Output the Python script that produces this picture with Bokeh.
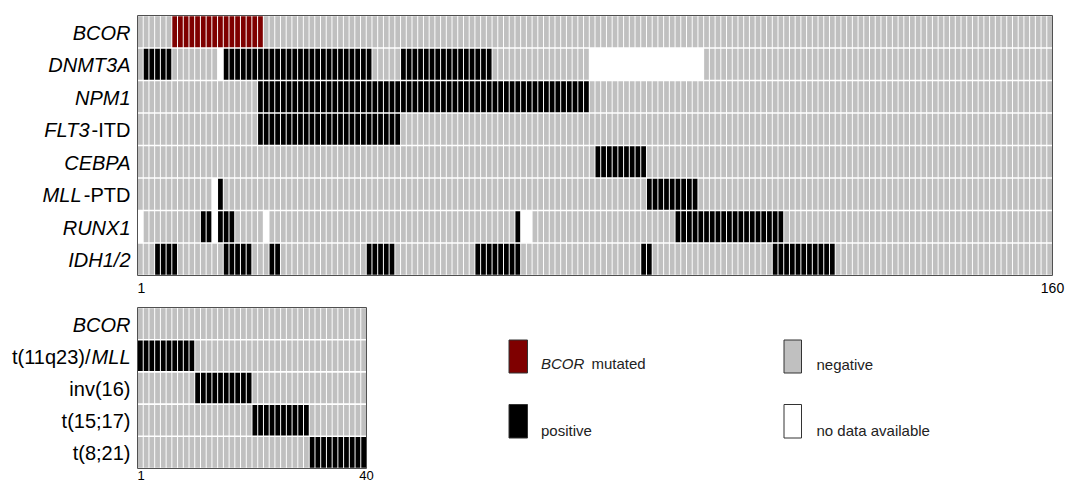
import pandas as pd
from bokeh.plotting import figure
from bokeh.models import ColumnDataSource, Range1d, FixedTicker
from bokeh.layouts import column, row
from bokeh.embed import file_html
from bokeh.resources import INLINE

FONT = "Liberation Sans"

# ---------------- data ----------------
N_TOP = 160
N_BOTTOM = 40

top_rows = ["BCOR", "DNMT3A", "NPM1", "FLT3-ITD", "CEBPA", "MLL-PTD", "RUNX1", "IDH1/2"]
bottom_rows = ["BCOR", "t(11q23)/MLL", "inv(16)", "t(15;17)", "t(8;21)"]

# case numbers (1-based) per state
bcor_mutated = list(range(7, 23))
dnmt3a_pos = list(range(2, 7)) + list(range(16, 42)) + list(range(47, 63))
dnmt3a_na = [15] + list(range(80, 100))
npm1_pos = list(range(22, 80))
flt3_pos = list(range(22, 47))
cebpa_pos = list(range(81, 90))
mllptd_pos = [15] + list(range(90, 99))
mllptd_na = [14]
runx1_pos = [12, 13, 15, 16, 17, 67] + list(range(95, 114))
runx1_na = [1, 14, 23, 68, 69]
idh_pos = [4, 5, 6, 7, 16, 17, 18, 19, 20, 24, 25, 41, 42, 43, 44, 45,
           60, 61, 62, 63, 64, 65, 66, 67, 89, 90] + list(range(112, 123))

bcor_bottom_mutated = []
t1123_pos = list(range(1, 11))
inv16_pos = list(range(11, 21))
t1517_pos = list(range(21, 31))
t821_pos = list(range(31, 41))

COLORS = {"negative": "#c0c0c0", "positive": "#000000",
          "mutated": "#7f0000", "na": "#ffffff"}

top_marks = {
    "BCOR": [("mutated", bcor_mutated)],
    "DNMT3A": [("positive", dnmt3a_pos), ("na", dnmt3a_na)],
    "NPM1": [("positive", npm1_pos)],
    "FLT3-ITD": [("positive", flt3_pos)],
    "CEBPA": [("positive", cebpa_pos)],
    "MLL-PTD": [("positive", mllptd_pos), ("na", mllptd_na)],
    "RUNX1": [("positive", runx1_pos), ("na", runx1_na)],
    "IDH1/2": [("positive", idh_pos)],
}
bottom_marks = {
    "BCOR": [("mutated", bcor_bottom_mutated)],
    "t(11q23)/MLL": [("positive", t1123_pos)],
    "inv(16)": [("positive", inv16_pos)],
    "t(15;17)": [("positive", t1517_pos)],
    "t(8;21)": [("positive", t821_pos)],
}

# row-label pieces: (row name, text, font style, extra x offset in px)
top_label_pieces = [
    ("BCOR", "BCOR", "italic", 0),
    ("DNMT3A", "DNMT3A", "italic", 0),
    ("NPM1", "NPM1", "italic", 0),
    ("FLT3-ITD", "-ITD", "normal", 0),
    ("FLT3-ITD", "FLT3", "italic", -41),
    ("CEBPA", "CEBPA", "italic", 0),
    ("MLL-PTD", "-PTD", "normal", 0),
    ("MLL-PTD", "MLL", "italic", -49),
    ("RUNX1", "RUNX1", "italic", 0),
    ("IDH1/2", "IDH1/2", "italic", 0),
]
bottom_label_pieces = [
    ("BCOR", "BCOR", "italic", 0),
    ("t(11q23)/MLL", "MLL", "italic", 0),
    ("t(11q23)/MLL", "t(11q23)/", "normal", -40),
    ("inv(16)", "inv(16)", "normal", 0),
    ("t(15;17)", "t(15;17)", "normal", 0),
    ("t(8;21)", "t(8;21)", "normal", 0),
]


def build(rows, n, marks):
    recs = []
    nr = len(rows)
    for r, name in enumerate(rows):
        state = {c: "negative" for c in range(1, n + 1)}
        for st, cases in marks[name]:
            for c in cases:
                state[c] = st
        for c in range(1, n + 1):
            recs.append(dict(case=c, row=nr - 1 - r, color=COLORS[state[c]]))
    return pd.DataFrame(recs)


def bare_fig(fw, fh, xr, yr, left, right, top, bottom, x_axis=None):
    p = figure(title=None, frame_width=fw, frame_height=fh, x_range=xr, y_range=yr,
               x_axis_location=x_axis, y_axis_location=None,
               output_backend="svg", toolbar_location=None,
               min_border=0, min_border_left=left, min_border_right=right,
               min_border_top=top, min_border_bottom=bottom)
    p.grid.visible = False
    p.background_fill_color = "white"
    p.border_fill_color = "white"
    return p


def style_edge_axis(p, n, size, standoff):
    ax = p.xaxis[0]
    ax.ticker = FixedTicker(ticks=[0.5, n + 0.5])
    ax.major_label_overrides = {0.5: "1", n + 0.5: str(n)}
    ax.axis_line_color = None
    ax.major_tick_line_color = None
    ax.minor_tick_line_color = None
    ax.major_tick_out = 0
    ax.major_tick_in = 0
    ax.minor_tick_out = 0
    ax.minor_tick_in = 0
    ax.major_label_standoff = standoff
    ax.major_label_text_font = FONT
    ax.major_label_text_font_size = size
    ax.major_label_text_color = "black"


LABEL_W = 137  # width of the row-label strip


def label_fig(rows, pieces, yr, fh, top, bottom):
    lf = bare_fig(LABEL_W, fh, Range1d(0, LABEL_W), yr, 0, 0, top, bottom)
    lf.outline_line_color = None
    nr = len(rows)
    df = pd.DataFrame(pieces, columns=["name", "text", "style", "dx"])
    df["y"] = [nr - 1 - rows.index(n) for n in df["name"]]
    df["x"] = LABEL_W - 7
    lf.text(x="x", y="y", text="text", x_offset="dx", y_offset=1, text_font_style="style",
            text_align="right", text_baseline="middle", text_font={"value": FONT},
            text_font_size="20px", text_color="black", source=ColumnDataSource(df))
    return lf


# ---------------- top panel ----------------
top_df = build(top_rows, N_TOP, top_marks)
top_yr = Range1d(-0.5, len(top_rows) - 0.5)
p_top = bare_fig(915, 260, Range1d(0.5, N_TOP + 0.5), top_yr, 0, 18, 15, 25, x_axis="below")
p_top.rect(x="case", y="row", width=0.83, height=0.95, fill_color="color",
           line_color=None, source=ColumnDataSource(top_df))
p_top.outline_line_color = "#505050"
p_top.outline_line_width = 1
style_edge_axis(p_top, N_TOP, "14px", 7)

lab_top = label_fig(top_rows, top_label_pieces, top_yr, 260, 15, 25)

# ---------------- bottom panel ----------------
bot_df = build(bottom_rows, N_BOTTOM, bottom_marks)
bot_yr = Range1d(-0.5, len(bottom_rows) - 0.5)
p_bot = bare_fig(229, 161, Range1d(0.5, N_BOTTOM + 0.5), bot_yr, 0, 10, 7, 17, x_axis="below")
p_bot.rect(x="case", y="row", width=0.83, height=0.95, fill_color="color",
           line_color=None, source=ColumnDataSource(bot_df))
p_bot.outline_line_color = "#505050"
p_bot.outline_line_width = 1
style_edge_axis(p_bot, N_BOTTOM, "13px", 2)

lab_bot = label_fig(bottom_rows, bottom_label_pieces, bot_yr, 161, 7, 17)

# ---------------- legend ----------------
# same borders as the bottom panel (row aligns the frames); frame spans page y 307..468
LEG_X0 = LABEL_W + 229 + 10
p_leg = bare_fig(1070 - LEG_X0, 161, Range1d(LEG_X0, 1070), Range1d(468, 307), 0, 0, 7, 17)
p_leg.outline_line_color = None

leg_colors = [COLORS["mutated"], COLORS["negative"], COLORS["positive"], COLORS["na"]]
p_leg.quad(left=[508.5, 783.5, 508.5, 783.5], right=[527, 801, 527, 801],
           top=[339.5, 339.5, 404, 404], bottom=[372.5, 372.5, 437.5, 437.5],
           fill_color=leg_colors, line_color="#333333", line_width=1)

leg_df = pd.DataFrame(dict(
    x=[540.5, 591, 540.5, 816, 816],
    y=[363, 363, 430, 364, 430],
    text=["BCOR", "mutated", "positive", "negative", "no data available"],
    style=["italic", "normal", "normal", "normal", "normal"],
))
p_leg.text(x="x", y="y", text="text", text_font_style="style", text_align="left",
           text_baseline="alphabetic", text_font={"value": FONT}, text_font_size="15px",
           text_color="#222222", source=ColumnDataSource(leg_df))

layout = column(row(lab_top, p_top), row(lab_bot, p_bot, p_leg))

open("out.html", "w").write(file_html(layout, INLINE))
